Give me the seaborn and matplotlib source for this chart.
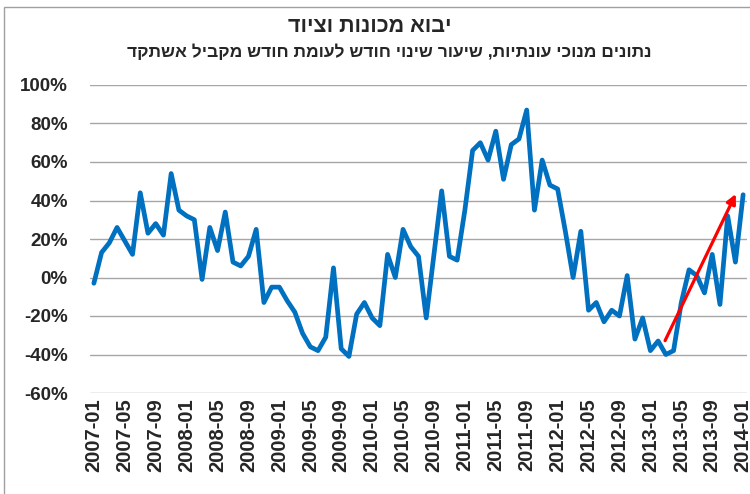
"""Machinery and equipment imports, year-over-year change, seasonally adjusted"""

import matplotlib
matplotlib.use("Agg")

import matplotlib.pyplot as plt
from matplotlib.patches import Rectangle
import pandas as pd
import seaborn as sns


TITLE = "יבוא מכונות וציוד"
SUBTITLE = "נתונים מנוכי עונתיות, שיעור שינוי חודש לעומת חודש מקביל אשתקד"

# monthly values 2007-01 .. 2014-01 (percent)
months = pd.period_range("2007-01", "2014-01", freq="M").strftime("%Y-%m").tolist()
change_pct = [
    -3, 13, 18, 26, 19, 12, 44, 23, 28, 22, 54, 35,
    32, 30, -1, 26, 14, 34, 8, 6, 11, 25, -13, -5,
    -5, -12, -18, -29, -36, -38, -31, 5, -37, -41, -19, -13,
    -21, -25, 12, 0, 25, 16, 11, -21, 12, 45, 11, 9,
    35, 66, 70, 61, 76, 51, 69, 72, 87, 35, 61, 48,
    46, 24, 0, 24, -17, -13, -23, -17, -20, 1, -32, -21,
    -38, -33, -40, -38, -13, 4, 1, -8, 12, -14, 32, 8,
    43,
]
tick_labels = months[::4]
y_ticks = [-60, -40, -20, 0, 20, 40, 60, 80, 100]

# trend arrow (month index, percent)
arrow_start = (73.9, -32.8)
arrow_end = (83.05, 43.4)


def rtl(text):
    """matplotlib has no bidi support, so flip hebrew for display"""
    return text[::-1]


sns.set_theme(style="white")
plt.rcParams["font.family"] = ["Liberation Sans", "DejaVu Sans"]

df = pd.DataFrame({"idx": range(len(change_pct)), "month": months, "value": change_pct})

fig = plt.figure(figsize=(7.5, 4.94), dpi=100)
ax = fig.add_axes([90 / 750, 1 - 393 / 494, 657 / 750, 308 / 494])

sns.lineplot(data=df, x="idx", y="value", ax=ax, color="#0070C0", linewidth=3.4,
             solid_joinstyle="round", solid_capstyle="round")

ax.annotate("", xy=arrow_end, xytext=arrow_start,
            arrowprops=dict(arrowstyle="-|>", color="#FF0000", lw=2.3, mutation_scale=14,
                            shrinkA=0, shrinkB=0))

ax.set_xlim(-0.5, len(change_pct) - 0.5)
ax.set_ylim(-60, 100)
ax.set_yticks(y_ticks)
ax.set_yticklabels([f"{v}%" for v in y_ticks], fontsize=13.5, fontweight="bold")
ax.set_xticks(range(0, len(months), 4))
ax.set_xticklabels(tick_labels, rotation=90, fontsize=14.5, fontweight="bold")
ax.tick_params(axis="y", length=0, pad=16)
ax.tick_params(axis="x", length=0, pad=4)
ax.set_xlabel("")
ax.set_ylabel("")
ax.grid(axis="y", color="#A6A6A6", linewidth=1)
ax.grid(axis="x", visible=False)
for side in ["left", "right", "top", "bottom"]:
    ax.spines[side].set_visible(False)

fig.text(370 / 750, 1 - 27 / 494, rtl(TITLE), ha="center", va="center",
         fontsize=15.5, fontweight="bold")
fig.text(389 / 750, 1 - 52 / 494, rtl(SUBTITLE), ha="center", va="center",
         fontsize=12.5, fontweight="bold")

fig.add_artist(Rectangle((4 / 750, -0.05), 1.0, 1.05 - 7 / 494, transform=fig.transFigure,
                         fill=False, edgecolor="#A0A0A0", linewidth=1))

fig.savefig("out.png", dpi=100)
